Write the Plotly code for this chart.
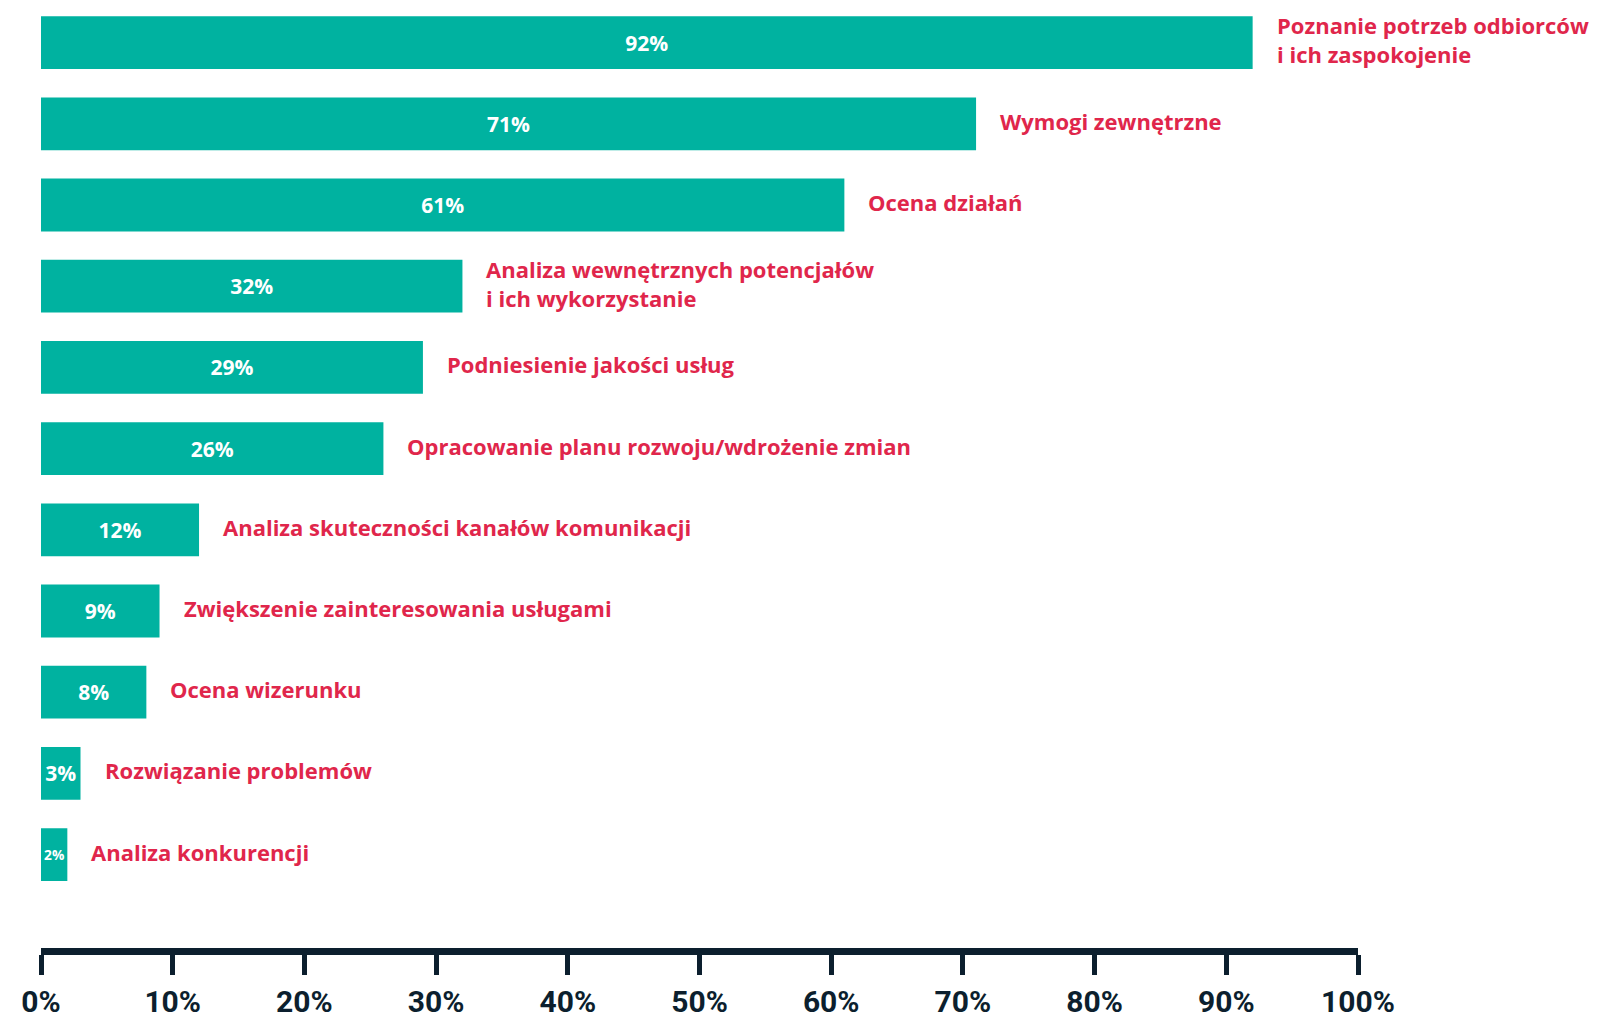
import plotly.graph_objects as go

# Survey results: purposes of conducted research (share of respondents, %)
categories = [
    "Poznanie potrzeb odbiorców<br>i ich zaspokojenie",
    "Wymogi zewnętrzne",
    "Ocena działań",
    "Analiza wewnętrznych potencjałów<br>i ich wykorzystanie",
    "Podniesienie jakości usług",
    "Opracowanie planu rozwoju/wdrożenie zmian",
    "Analiza skuteczności kanałów komunikacji",
    "Zwiększenie zainteresowania usługami",
    "Ocena wizerunku",
    "Rozwiązanie problemów",
    "Analiza konkurencji",
]
values = [92, 71, 61, 32, 29, 26, 12, 9, 8, 3, 2]
tick_values = [0, 10, 20, 30, 40, 50, 60, 70, 80, 90, 100]
tick_labels = [f"{v}%" for v in tick_values]

TEAL = "#00b2a0"
RED = "#e0264b"
NAVY = "#0c1f2e"
positions = list(range(len(categories)))

fig = go.Figure()
fig.add_trace(go.Bar(
    x=values,
    y=positions,
    orientation="h",
    marker=dict(color=TEAL, line=dict(width=0)),
    text=[f"{v}%" for v in values],
    textposition="inside",
    insidetextanchor="middle",
    textangle=0,
    textfont=dict(family="Open Sans", size=21, color="white", weight="bold"),
    hoverinfo="skip",
))

# Category names placed just past the end of each bar
for pos, val, name in zip(positions, values, categories):
    fig.add_annotation(
        x=val, y=pos, text=name, showarrow=False,
        xanchor="left", yanchor="middle", xshift=22, yshift=3, align="left",
        font=dict(family="Open Sans", size=22, color=RED, weight="bold"),
    )

fig.update_layout(
    width=1598, height=1023,
    margin=dict(l=41, r=240, t=2, b=75, autoexpand=False),
    paper_bgcolor="white", plot_bgcolor="white",
    bargap=0.35,
    showlegend=False,
    xaxis=dict(
        range=[0, 100],
        tickvals=tick_values, ticktext=tick_labels,
        showgrid=False, zeroline=False,
        showline=True, linecolor=NAVY, linewidth=7,
        ticks="outside", ticklen=20, tickwidth=5, tickcolor=NAVY,
        ticklabelstandoff=1,
        automargin=False,
        tickfont=dict(family="Roboto", size=30, color=NAVY, weight="bold"),
        fixedrange=True,
    ),
    yaxis=dict(
        range=[11.15, -0.5],
        showticklabels=False, showgrid=False, zeroline=False, showline=False,
        automargin=False,
        fixedrange=True,
    ),
)

fig.write_html("out.html")
